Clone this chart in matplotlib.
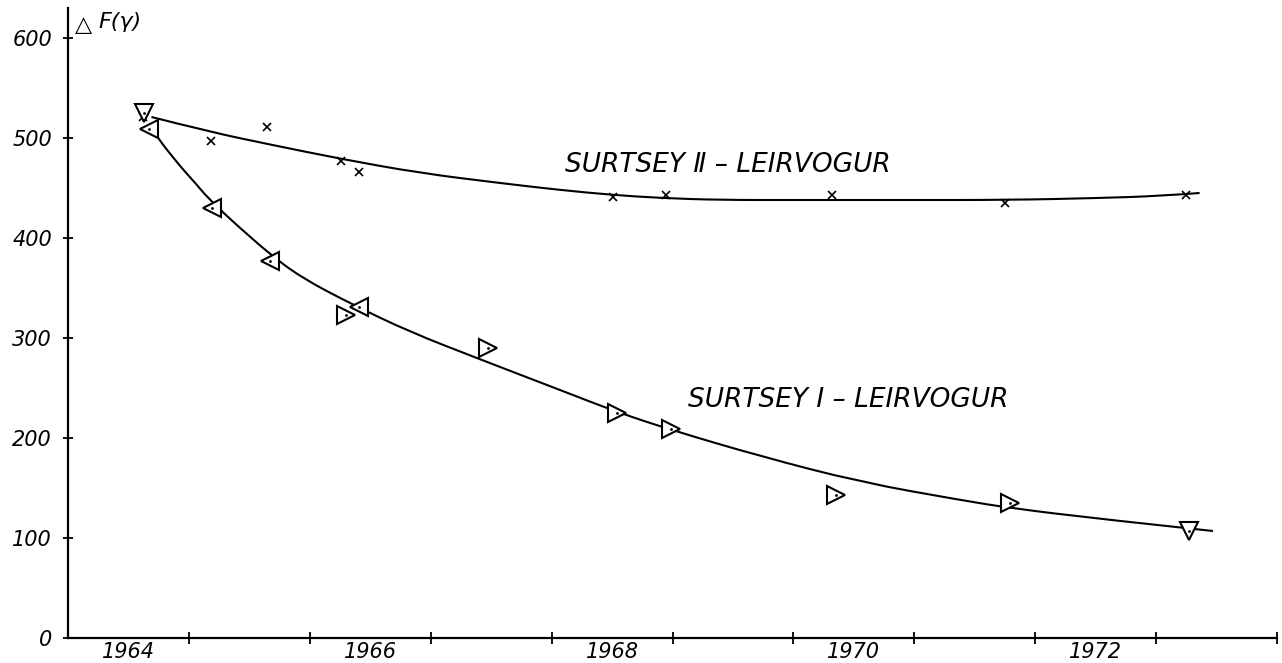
import matplotlib
matplotlib.use("Agg")
import matplotlib.pyplot as plt
from matplotlib.path import Path
from matplotlib.patches import PathPatch

# Surtsey II - Leirvogur (crosses)
s2_years = [1964.62, 1965.18, 1965.65, 1966.26, 1966.41, 1968.51, 1968.95, 1970.32, 1971.75, 1973.25]
s2_vals = [521, 497, 511, 477, 466, 441, 443, 443, 435, 443]

# Surtsey I - Leirvogur (triangles), marker orientation as drawn
s1_years = [1964.63, 1964.67, 1965.19, 1965.67, 1966.30, 1966.41, 1967.47, 1968.54, 1968.99, 1970.35, 1971.79, 1973.27]
s1_vals = [525, 509, 430, 377, 323, 331, 290, 225, 209, 143, 135, 107]
s1_marks = ['v', '<', '<', '<', '>', '<', '>', '>', '>', '>', '>', 'v']

# hand drawn fitted curves
c2_years = [1964.69, 1965.18, 1965.65, 1966.26, 1966.91, 1967.57, 1968.07, 1968.51, 1968.90,
            1969.39, 1970.05, 1970.88, 1971.79, 1972.54, 1973.03, 1973.36]
c2_vals = [521, 506, 494, 479, 465, 455, 448, 443, 440, 438, 438, 438, 438, 440, 442, 445]

c1_years = [1964.68, 1964.75, 1964.82, 1964.90, 1964.97, 1965.06, 1965.15, 1965.34, 1965.49, 1965.65,
            1965.92, 1966.36, 1966.83, 1967.38, 1968.07, 1968.54, 1968.99, 1969.72, 1970.55,
            1971.38, 1971.79, 1972.54, 1973.47]
c1_vals = [512, 499, 488, 476, 466, 454, 441, 419, 403, 386, 361, 333, 306, 280, 248, 226, 208,
           182, 156, 138, 130, 119, 107]

year_ticks = list(range(1965, 1975))
year_labels = ['1964', '1966', '1968', '1970', '1972']
y_ticks = [0, 100, 200, 300, 400, 500, 600]

font = {'family': 'DejaVu Sans', 'style': 'italic'}


def smooth_curve(ax, xs, ys):
    # quadratic bezier through the read points (points act as controls)
    pts = list(zip(xs, ys))
    verts = [pts[0]]
    codes = [Path.MOVETO]
    for i in range(1, len(pts) - 1):
        mid = ((pts[i][0] + pts[i + 1][0]) / 2, (pts[i][1] + pts[i + 1][1]) / 2)
        if i == len(pts) - 2:
            mid = pts[-1]
        verts += [pts[i], mid]
        codes += [Path.CURVE3, Path.CURVE3]
    ax.add_patch(PathPatch(Path(verts, codes), fc='none', ec='black', lw=1.5))


fig = plt.figure(figsize=(12.82, 6.63), dpi=100)
ax = fig.add_axes([68 / 1282, 25 / 663, 1209 / 1282, 630 / 663])
ax.set_xlim(1964, 1974)
ax.set_ylim(0, 630)

for s in ['top', 'right']:
    ax.spines[s].set_visible(False)
for s in ['left', 'bottom']:
    ax.spines[s].set_linewidth(1.6)

# curves
smooth_curve(ax, c2_years, c2_vals)
smooth_curve(ax, c1_years, c1_vals)

# points
ax.plot(s2_years, s2_vals, ls='none', marker='x', ms=6, mew=1.2, color='black')
for x, y, m in zip(s1_years, s1_vals, s1_marks):
    ax.plot(x, y, marker=m, ms=13, mfc='white', mec='black', mew=1.5)
ax.plot(s1_years, s1_vals, ls='none', marker='.', ms=2, color='black')

# ticks
ax.set_xticks(year_ticks)
ax.set_xticklabels([])
ax.tick_params(axis='x', which='major', direction='inout', length=9, width=1.3)
ax.set_xticks([int(l) + 0.5 for l in year_labels], minor=True)
ax.set_xticklabels(year_labels, minor=True, fontdict=font, fontsize=15)
ax.tick_params(axis='x', which='minor', length=0, pad=3)

ax.set_yticks(y_ticks)
ax.set_yticklabels([str(v) for v in y_ticks], fontdict=font, fontsize=15)
ax.tick_params(axis='y', direction='inout', length=7, width=1.3, pad=8)

# labels
ax.text(1968.11, 473, 'SURTSEY \u2161 \u2013 LEIRVOGUR', fontdict=font, fontsize=19,
        ha='left', va='center')
ax.text(1969.13, 238, 'SURTSEY \u2160 \u2013 LEIRVOGUR', fontdict=font, fontsize=19,
        ha='left', va='center')
fig.text(75 / 1282, 1 - 25 / 663, '\u25b3', fontsize=16, va='center', ha='left')
fig.text(98 / 1282, 1 - 22 / 663, 'F(\u03b3)', fontdict=font, fontsize=16, va='center', ha='left')

fig.savefig('out.png', dpi=100, facecolor='white')
